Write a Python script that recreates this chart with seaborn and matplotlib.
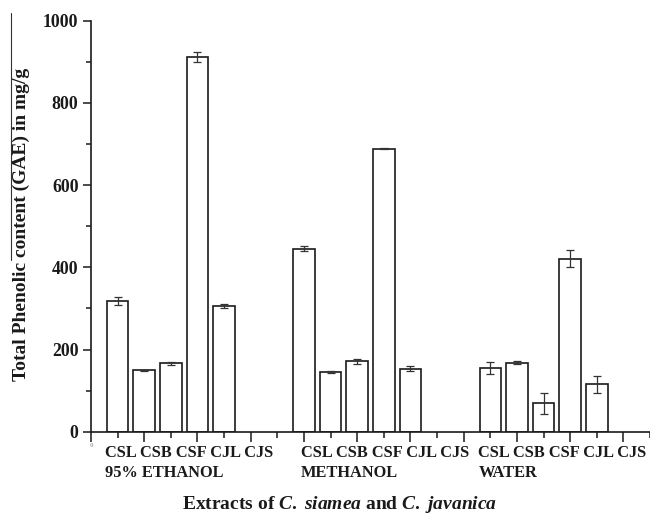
import numpy as np
import pandas as pd
import matplotlib
matplotlib.use("Agg")
import matplotlib.pyplot as plt
from matplotlib.ticker import MultipleLocator
from matplotlib.lines import Line2D
import matplotlib.transforms as mtransforms
import seaborn as sns

# ---- data ----
solvents = ["95% ETHANOL", "METHANOL", "WATER"]
extracts = ["CSL", "CSB", "CSF", "CJL", "CJS"]
ethanol_vals = [318, 149, 166, 911, 305]
ethanol_err = [10, 1.5, 3, 12, 5]
methanol_vals = [445, 146, 171, 689, 153]
methanol_err = [6, 2.5, 6, 2, 6]
water_vals = [155, 168, 69, 421, 115]
water_err = [15, 3, 26, 21, 21]
y_ticks = [0, 200, 400, 600, 800, 1000]
label_x = [0.52, 7.88, 14.55]   # left edge of each group's text block (x units)

sns.set_theme(style="ticks")
plt.rcParams["font.family"] = ["Liberation Serif", "DejaVu Serif"]
plt.rcParams["font.weight"] = "bold"
plt.rcParams["mathtext.fontset"] = "custom"
plt.rcParams["mathtext.it"] = "Liberation Serif:italic:bold"
plt.rcParams["mathtext.rm"] = "Liberation Serif:bold"

all_vals = [ethanol_vals, methanol_vals, water_vals]
all_errs = [ethanol_err, methanol_err, water_err]
rows = []
for g, (vals, errs) in enumerate(zip(all_vals, all_errs)):
    for i, (v, e) in enumerate(zip(vals, errs)):
        rows.append({"solvent": solvents[g], "extract": extracts[i],
                     "pos": g * 7 + i + 1, "value": v, "err": e})
df = pd.DataFrame(rows)

fig = plt.figure(figsize=(6.5, 5.15), dpi=100)
ax = fig.add_axes([91 / 650, (515 - 431.7) / 515, 1 - 91 / 650, 411 / 515])

sns.barplot(data=df, x="pos", y="value", native_scale=True, width=0.81,
            color="white", saturation=1, edgecolor="#1a1a1a", linewidth=1.2,
            errorbar=None, ax=ax)
ax.errorbar(df["pos"], df["value"], yerr=df["err"], fmt="none",
            ecolor="#333333", elinewidth=0.9, capsize=3.2, capthick=0.9)

ax.set_xlim(0, 21)
ax.set_ylim(0, 1000)
sns.despine(ax=ax)
for s in ["left", "bottom"]:
    ax.spines[s].set_linewidth(1.2)
    ax.spines[s].set_color("#1a1a1a")

ax.set_yticks(y_ticks)
ax.set_yticklabels([str(t) for t in y_ticks], fontsize=12.8, fontweight="bold")
ax.yaxis.set_minor_locator(MultipleLocator(100))
ax.set_xticks(np.arange(0, 21, 2))
ax.set_xticklabels(["0"] + [""] * 10, fontsize=5, color="#aaaaaa")
ax.xaxis.set_minor_locator(MultipleLocator(1))
ax.tick_params(axis="y", which="major", direction="out", length=6, width=1.1, pad=3, colors="#1a1a1a")
ax.tick_params(axis="y", which="minor", direction="out", length=3.5, width=1.1, colors="#1a1a1a")
ax.tick_params(axis="x", which="major", direction="out", length=7, width=1.1, pad=1, color="#1a1a1a")
ax.tick_params(axis="x", which="minor", direction="out", length=4, width=1.1, color="#1a1a1a")
ax.set_xlabel("")
ax.set_ylabel("")

trans = mtransforms.blended_transform_factory(ax.transData, ax.transAxes)
for g, name in enumerate(solvents):
    ax.text(label_x[g], -0.0608, " ".join(extracts), transform=trans,
            ha="left", va="baseline", fontsize=11.8, fontweight="bold", color="#1a1a1a")
    ax.text(label_x[g], -0.1095, name, transform=trans,
            ha="left", va="baseline", fontsize=11.8, fontweight="bold", color="#1a1a1a")

ax.text(0.4454, -0.189,
        r"Extracts of $\mathit{C.}$ $\mathit{siamea}$ and $\mathit{C.}$ $\mathit{javanica}$",
        transform=ax.transAxes, ha="center", va="baseline",
        fontsize=14, fontweight="bold", color="#1a1a1a")
ax.text(-0.125, 0.504, "Total Phenolic content (GAE) in mg/g",
        transform=ax.transAxes, rotation=90, ha="center", va="center",
        fontsize=14, fontweight="bold", color="#1a1a1a")

# overline artifact beside the y label
fig.add_artist(Line2D([11 / 650, 11 / 650], [1 - 13 / 515, 1 - 260 / 515],
                      color="#333333", linewidth=0.8))

fig.savefig("out.png", dpi=100)
